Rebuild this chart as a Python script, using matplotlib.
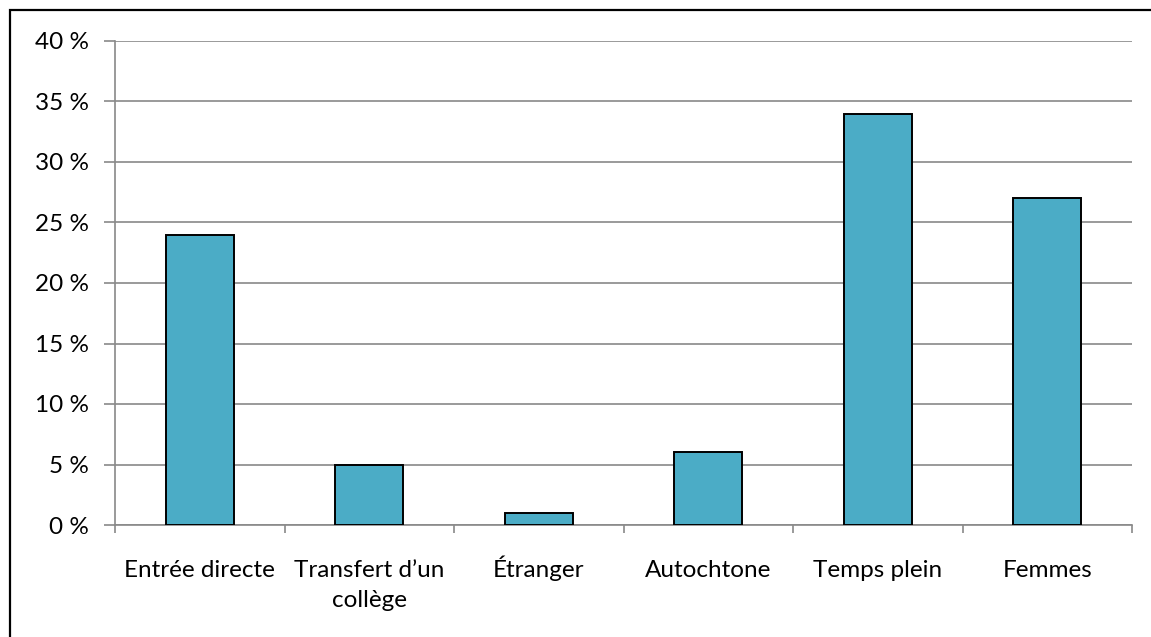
import matplotlib.pyplot as plt
from matplotlib.patches import Rectangle
from matplotlib.ticker import FixedLocator, FuncFormatter
from matplotlib.transforms import blended_transform_factory

# Data
categories = ["Entrée directe", "Transfert d\u2019un\ncollège", "Étranger",
              "Autochtone", "Temps plein", "Femmes"]
values = [24, 5, 1, 6, 34, 27]
y_ticks = [0, 5, 10, 15, 20, 25, 30, 35, 40]

plt.rcParams['font.family'] = ['Lato', 'DejaVu Sans']

W, H = 1151, 637
fig = plt.figure(figsize=(W / 100, H / 100), dpi=100)
ax = fig.add_axes([115 / W, 1 - 525 / H, (1132 - 115) / W, (525 - 41) / H])

grid_col = "#898989"
x = list(range(len(categories)))
ax.bar(x, values, width=0.4, color="#4BACC6", edgecolor="black", linewidth=1.4, zorder=3)

ax.set_xlim(-0.5, len(categories) - 0.5)
ax.set_ylim(0, 40)
ax.yaxis.set_major_locator(FixedLocator(y_ticks))
ax.yaxis.set_major_formatter(FuncFormatter(lambda v, p: f"{int(v)} %"))
ax.grid(axis="y", color=grid_col, linewidth=1.2, zorder=0)

# tick marks at category boundaries, labels placed by hand, one baseline per line
ax.set_xticks([i - 0.5 for i in range(len(categories) + 1)])
ax.set_xticklabels([])
ax.tick_params(axis="x", length=6, color=grid_col, width=1.2)
trans = blended_transform_factory(ax.transData, fig.transFigure)
for xi, lab in zip(x, categories):
    for k, line in enumerate(lab.split("\n")):
        ax.text(xi, 1 - (577 + 30 * k) / H, line, transform=trans,
                ha="center", va="baseline", fontsize=17.5)

ax.tick_params(axis="y", length=8, color=grid_col, width=1.2, labelsize=17.5, pad=11)

for side in ["top", "right"]:
    ax.spines[side].set_visible(False)
for side in ["left", "bottom"]:
    ax.spines[side].set_color(grid_col)
    ax.spines[side].set_linewidth(1.2)

# outer chart border (right and bottom edges run off the image)
fig.patches.append(Rectangle((9.5 / W, -5 / H), (W - 9.5 + 10) / W, (H - 10 + 5) / H,
                             transform=fig.transFigure, fill=False,
                             edgecolor="black", linewidth=1.6))

fig.savefig("out.png", dpi=100)
